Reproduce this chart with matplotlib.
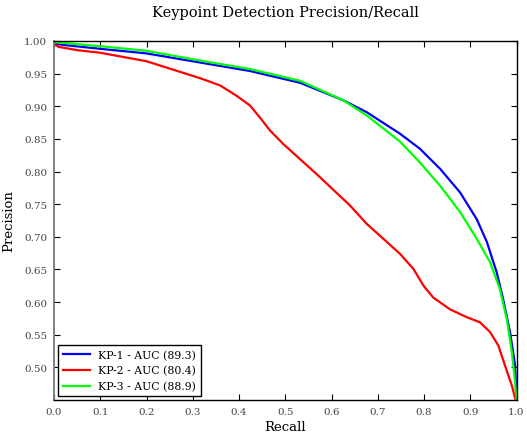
import matplotlib
matplotlib.use("Agg")
import matplotlib.pyplot as plt

plt.rcParams['font.family'] = ['DejaVu Serif']

kp1_r = [0.0, 0.02, 0.1, 0.2, 0.316, 0.424, 0.532, 0.626, 0.676, 0.748, 0.791, 0.835, 0.878, 0.914, 0.936, 0.957, 0.971, 0.986, 0.997, 1.0]
kp1_p = [0.996, 0.994, 0.988, 0.981, 0.967, 0.954, 0.936, 0.909, 0.891, 0.858, 0.835, 0.804, 0.768, 0.727, 0.692, 0.646, 0.605, 0.554, 0.503, 0.45]

kp2_r = [0.0, 0.01, 0.05, 0.1, 0.2, 0.316, 0.359, 0.395, 0.424, 0.445, 0.467, 0.496, 0.532, 0.568, 0.604, 0.64, 0.676, 0.712, 0.748, 0.777, 0.799, 0.820, 0.856, 0.892, 0.921, 0.943, 0.961, 0.975, 0.99, 0.998]
kp2_p = [0.995, 0.991, 0.986, 0.982, 0.969, 0.943, 0.932, 0.916, 0.901, 0.883, 0.863, 0.842, 0.819, 0.796, 0.772, 0.748, 0.720, 0.697, 0.674, 0.651, 0.625, 0.607, 0.589, 0.577, 0.569, 0.554, 0.533, 0.503, 0.472, 0.45]

kp3_r = [0.0, 0.02, 0.1, 0.2, 0.316, 0.424, 0.532, 0.626, 0.676, 0.748, 0.791, 0.835, 0.878, 0.914, 0.943, 0.964, 0.979, 0.99, 0.997, 1.0]
kp3_p = [0.998, 0.997, 0.992, 0.985, 0.970, 0.957, 0.939, 0.909, 0.886, 0.846, 0.814, 0.778, 0.738, 0.697, 0.661, 0.620, 0.574, 0.523, 0.477, 0.45]

labels = ['KP-1 - AUC (89.3)', 'KP-2 - AUC (80.4)', 'KP-3 - AUC (88.9)']
colors = ['#0000ff', '#ff0000', '#00ff00']

x_ticks = [0.0, 0.1, 0.2, 0.3, 0.4, 0.5, 0.6, 0.7, 0.8, 0.9, 1.0]
y_ticks = [0.50, 0.55, 0.60, 0.65, 0.70, 0.75, 0.80, 0.85, 0.90, 0.95, 1.00]

fig = plt.figure(figsize=(5.27, 4.39), dpi=100)
ax = fig.add_axes([54/527, 1 - 401/439, (516.5-54)/527, (401-42)/439])

for r, p, lab, c in zip([kp1_r, kp2_r, kp3_r], [kp1_p, kp2_p, kp3_p], labels, colors):
    ax.plot(r, p, color=c, lw=1.6, label=lab, solid_joinstyle='round')

ax.set_xlim(0, 1)
ax.set_ylim(0.45, 1.0)
ax.set_xticks(x_ticks)
ax.set_xticklabels([f"{v:.1f}" for v in x_ticks])
ax.set_yticks(y_ticks)
ax.set_yticklabels([f"{v:.2f}" for v in y_ticks])
ax.tick_params(direction='in', top=True, right=True, length=4, width=0.8,
               labelsize=7.5, labelcolor='#444444', pad=5)
for s in ax.spines.values():
    s.set_linewidth(1.0)
ax.spines['left'].set_color('#777777')
ax.spines['left'].set_linewidth(1.3)

ax.set_title('Keypoint Detection Precision/Recall', fontsize=10.5, pad=18)
ax.set_xlabel('Recall', fontsize=9.5, labelpad=3)
ax.set_ylabel('Precision', fontsize=9.5, labelpad=6)

leg = ax.legend(loc='lower left', fontsize=7.8, fancybox=False, framealpha=1,
                edgecolor='black', borderaxespad=0.4, handlelength=2.5)
leg.get_frame().set_linewidth(1.0)

fig.savefig('out.png', dpi=100)
